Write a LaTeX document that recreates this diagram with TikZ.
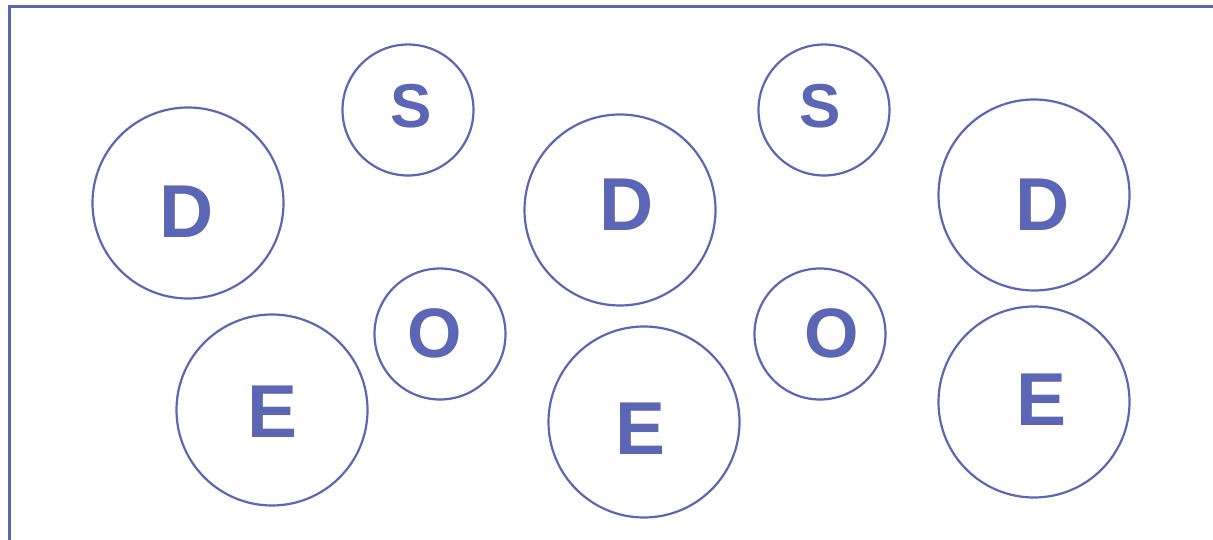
\documentclass[tikz,border=0pt]{standalone}
\usepackage{fontspec}
\setmainfont{Liberation Sans}
\definecolor{bblue}{RGB}{91,102,180}
\usetikzlibrary{calc}

\begin{document}
\begin{tikzpicture}[
  x=1pt, y=1pt,
  bigbub/.style={
    circle, draw=bblue, line width=2.2pt,
    minimum size=191pt, inner sep=0pt
  },
  smallbub/.style={
    circle, draw=bblue, line width=2.2pt,
    minimum size=131pt, inner sep=0pt
  },
  letter/.style={
    inner sep=0pt, text=bblue,
    font=\fontsize{#1}{#1}\selectfont\bfseries
  },
  letter/.default=75
]
\useasboundingbox (0,0) rectangle (1213,540);

% frame
\draw[bblue, line width=2.6pt] (9.7,-5) -- (9.7,533.2) -- (1220,533.2);

% bubbles
\node[bigbub]   (d1) at (188,337)  {};
\node[smallbub] (s1) at (408,430)  {};
\node[bigbub]   (d2) at (620,330)  {};
\node[smallbub] (s2) at (824,430)  {};
\node[bigbub]   (d3) at (1034,345) {};
\node[bigbub]   (e1) at (272,130)  {};
\node[smallbub] (o1) at (440,206)  {};
\node[bigbub]   (e2) at (644,118)  {};
\node[smallbub] (o2) at (820,206)  {};
\node[bigbub]   (e3) at (1034,138) {};

% letters
\node[letter]     (d1t) at ($(d1)+(-1.5,-8.5)$) {D};
\node[letter=62]  (s1t) at ($(s1)+(3,4)$)       {S};
\node[letter]     (d2t) at ($(d2)+(7,5.5)$)     {D};
\node[letter=62]  (s2t) at ($(s2)+(-4,4)$)      {S};
\node[letter]     (d3t) at ($(d3)+(8.5,-10)$)   {D};
\node[letter]     (e1t) at ($(e1)+(0.5,-2)$)    {E};
\node[letter=70]  (o1t) at ($(o1)+(-5,1)$)      {O};
\node[letter]     (e2t) at ($(e2)+(-3.5,-6.5)$) {E};
\node[letter=70]  (o2t) at ($(o2)+(12,0.5)$)    {O};
\node[letter]     (e3t) at ($(e3)+(8,2)$)       {E};
\end{tikzpicture}
\end{document}
